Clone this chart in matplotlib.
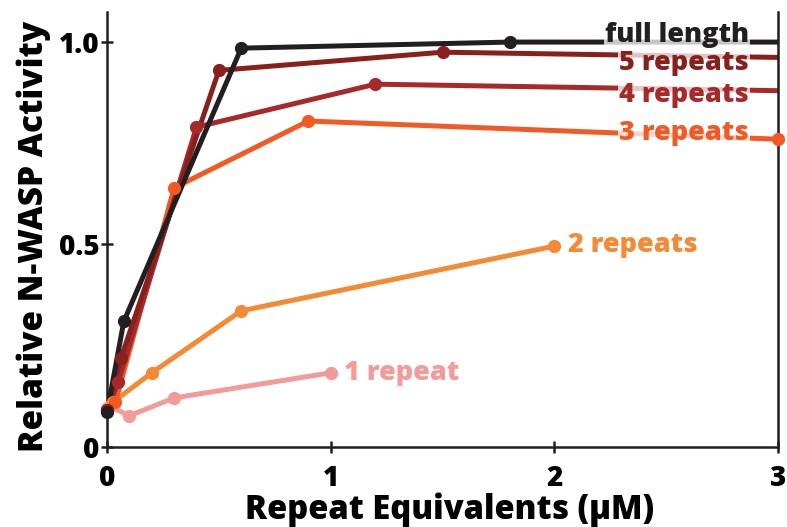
import matplotlib
matplotlib.use("Agg")
import matplotlib.pyplot as plt

plt.rcParams['font.family'] = ['Open Sans', 'DejaVu Sans']
plt.rcParams['font.weight'] = 'heavy'

# repeat equivalents (uM) and relative activity for each construct
x_full = [0, 0.075, 0.6, 1.8, 6]
y_full = [0.085, 0.31, 0.985, 1.0, 1.0]
x_r5 = [0, 0.0625, 0.5, 1.5, 5]
y_r5 = [0.09, 0.22, 0.93, 0.975, 0.945]
x_r4 = [0, 0.05, 0.4, 1.2, 4]
y_r4 = [0.09, 0.16, 0.79, 0.896, 0.871]
x_r3 = [0, 0.0375, 0.3, 0.9, 3]
y_r3 = [0.09, 0.11, 0.64, 0.805, 0.76]
x_r2 = [0, 0.025, 0.2, 0.6, 2]
y_r2 = [0.09, 0.11, 0.183, 0.336, 0.496]
x_r1 = [0, 0.0125, 0.1, 0.3, 1]
y_r1 = [0.095, 0.1, 0.077, 0.121, 0.183]

names = ['1 repeat', '2 repeats', '3 repeats', '4 repeats', '5 repeats', 'full length']
colors = ['#f29b99', '#f48a33', '#f15a24', '#a8292a', '#8a201d', '#231f20']
xs = [x_r1, x_r2, x_r3, x_r4, x_r5, x_full]
ys = [y_r1, y_r2, y_r3, y_r4, y_r5, y_full]

# label anchors (data coords) and alignment
lab_x = [1.06, 2.06, 2.87, 2.87, 2.87, 2.87]
lab_y = [0.183, 0.499, 0.775, 0.869, 0.948, 1.017]
lab_ha = ['left', 'left', 'right', 'right', 'right', 'right']

fig = plt.figure(figsize=(7.87, 5.27), dpi=100)
ax = fig.add_axes([0.136, 0.152, 0.8526, 0.825])

for x, y, c in zip(xs, ys, colors):
    ax.plot(x, y, color=c, lw=3.6, solid_capstyle='butt', zorder=2)
    px = [a for a in x if a <= 3]
    py = [b for a, b in zip(x, y) if a <= 3]
    ax.plot(px, py, 'o', color=c, ms=8.5, clip_on=False, zorder=3)

for n, c, tx, ty, ha in zip(names, colors, lab_x, lab_y, lab_ha):
    ax.text(tx, ty, n, color=c, fontsize=19.5, fontweight='heavy', ha=ha, va='center',
            zorder=4, bbox=dict(facecolor='white', edgecolor='none', alpha=0.75, pad=0.5))

ax.set_xlim(0, 3)
ax.set_ylim(0, 1.074)
ax.set_xticks([0, 1, 2, 3])
ax.set_xticklabels(['0', '1', '2', '3'])
ax.set_yticks([0, 0.5, 1.0])
ax.set_yticklabels(['0', '0.5', '1.0'])

for s in ['left', 'bottom', 'right']:
    ax.spines[s].set_color('#231f20')
    ax.spines[s].set_linewidth(1.8)
ax.spines['top'].set_visible(False)
ax.tick_params(direction='inout', length=9, width=1.8, color='#231f20', labelsize=20)
ax.tick_params(axis='x', pad=8)
ax.tick_params(axis='y', pad=1)

ax.set_xlabel('Repeat Equivalents (\u03bcM)', fontsize=23.5, fontweight='heavy')
ax.set_ylabel('Relative N-WASP Activity', fontsize=24, fontweight='heavy')
ax.xaxis.set_label_coords(0.51, -0.105)
ax.yaxis.set_label_coords(-0.084, 0.485)

fig.savefig('out.png', dpi=100)
